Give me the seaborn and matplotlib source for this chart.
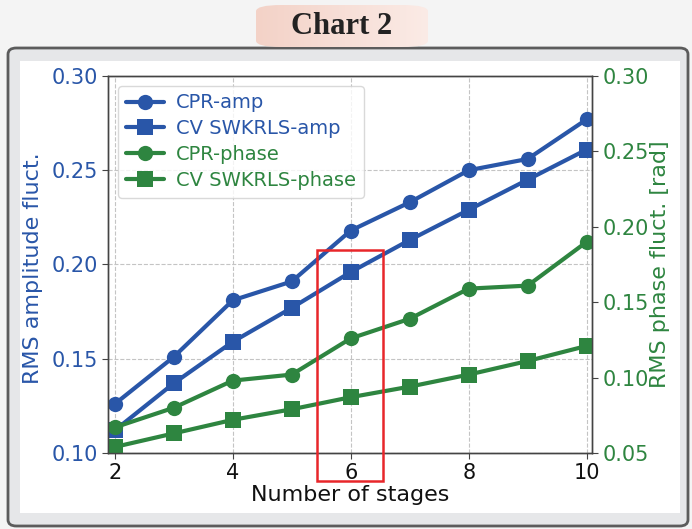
import matplotlib
matplotlib.use("Agg")
import matplotlib.pyplot as plt
from matplotlib.patches import FancyBboxPatch, Rectangle
from matplotlib.colors import LinearSegmentedColormap
import numpy as np
import pandas as pd
import seaborn as sns

# ---- data ----
stages = [2, 3, 4, 5, 6, 7, 8, 9, 10]
cpr_amp = [0.126, 0.151, 0.181, 0.191, 0.218, 0.233, 0.250, 0.256, 0.277]
cv_amp = [0.112, 0.137, 0.159, 0.177, 0.196, 0.213, 0.229, 0.245, 0.261]
cpr_phase = [0.067, 0.080, 0.098, 0.102, 0.126, 0.139, 0.159, 0.161, 0.190]
cv_phase = [0.054, 0.063, 0.072, 0.079, 0.087, 0.094, 0.102, 0.111, 0.121]
left_ticks = [0.10, 0.15, 0.20, 0.25, 0.30]
right_ticks = [0.05, 0.10, 0.15, 0.20, 0.25, 0.30]
x_ticks = [2, 4, 6, 8, 10]
title = "Chart 2"

BLUE = "#2956a8"
GREEN = "#2e8540"

sns.set_style("white")
plt.rcParams["font.family"] = ["DejaVu Sans"]

W, H = 692, 529
fig = plt.figure(figsize=(W / 100, H / 100), dpi=100)
fig.patch.set_facecolor("#f4f4f4")

def px(x0, y0, x1, y1):
    return x0 / W, 1 - y1 / H, (x1 - x0) / W, (y1 - y0) / H

# panel
x, y, w, h = px(8, 48, 688, 526)
fig.patches.append(FancyBboxPatch((x, y), w, h, boxstyle="round,pad=0,rounding_size=0.012",
                                  transform=fig.transFigure, facecolor="#e6e7e9",
                                  edgecolor="#5c5c5c", linewidth=2, zorder=0))
x, y, w, h = px(20, 61, 680, 513)
fig.patches.append(Rectangle((x, y), w, h, transform=fig.transFigure,
                             facecolor="white", edgecolor="none", zorder=0.5))
# title box with gradient
tx, ty, tw, th = px(256, 5, 428, 47)
grad = np.linspace(0, 1, 256).reshape(1, -1)
cmap = LinearSegmentedColormap.from_list("pk", ["#f3d2c7", "#fbebe6"])
tax = fig.add_axes([tx, ty, tw, th])
tax.set_zorder(1)
tax.imshow(grad, aspect="auto", cmap=cmap, extent=[0, 1, 0, 1])
tax.set_axis_off()
clip = FancyBboxPatch((0, 0), 1, 1, boxstyle="round,pad=0,rounding_size=0.15",
                      transform=tax.transAxes, facecolor="none", edgecolor="none")
tax.add_patch(clip)
tax.images[0].set_clip_path(clip)
tax.text(0.5, 0.5, title, ha="center", va="center", fontsize=22, fontweight="bold",
         family=["Liberation Serif", "DejaVu Serif"], color="#222222", transform=tax.transAxes)

# main axes
ax = fig.add_axes([108 / W, 1 - 453 / H, (592 - 108) / W, (453 - 76) / H])
ax.set_facecolor("white")
ax2 = ax.twinx()
ax.set_zorder(2)
ax2.set_zorder(3)
ax2.patch.set_visible(False)

sns.lineplot(x=stages, y=cpr_amp, ax=ax, color=BLUE, marker="o", markersize=11,
             linewidth=3, markeredgewidth=0, label="CPR-amp", legend=False)
sns.lineplot(x=stages, y=cv_amp, ax=ax, color=BLUE, marker="s", markersize=11,
             linewidth=3, markeredgewidth=0, label="CV SWKRLS-amp", legend=False)
sns.lineplot(x=stages, y=cpr_phase, ax=ax2, color=GREEN, marker="o", markersize=11,
             linewidth=3, markeredgewidth=0, label="CPR-phase", legend=False)
sns.lineplot(x=stages, y=cv_phase, ax=ax2, color=GREEN, marker="s", markersize=11,
             linewidth=3, markeredgewidth=0, label="CV SWKRLS-phase", legend=False)

ax.set_xlim(1.885, 10.09)
ax.set_ylim(0.10, 0.30)
ax2.set_ylim(0.05, 0.30)
ax.set_xticks(x_ticks)
ax.set_yticks(left_ticks)
ax2.set_yticks(right_ticks)
ax.set_yticklabels([f"{v:.2f}" for v in left_ticks])
ax2.set_yticklabels([f"{v:.2f}" for v in right_ticks])

ax.grid(True, linestyle="--", color="#c4c4c4", linewidth=0.8)
ax2.grid(False)
for a in (ax, ax2):
    for s in a.spines.values():
        s.set_color("#444444")
        s.set_linewidth(1.0)

ax.tick_params(axis="y", labelsize=15, length=4, width=0.8, left=True,
               color="#444444", labelcolor=BLUE)
ax.tick_params(axis="x", labelsize=15, length=4, width=0.8, bottom=True,
               color="#444444", labelcolor="#111111")
ax2.tick_params(axis="y", labelsize=15, length=4, width=0.8, right=True,
                color="#444444", labelcolor=GREEN)

ax.set_xlabel("Number of stages", fontsize=16, color="#111111", labelpad=1)
ax.set_ylabel("RMS amplitude fluct.", fontsize=16, color=BLUE)
ax2.set_ylabel("RMS phase fluct. [rad]", fontsize=16, color=GREEN)
ax.yaxis.set_label_coords(-0.134, 0.49)
ax2.yaxis.set_label_coords(1.12, 0.5)

h1, l1 = ax.get_legend_handles_labels()
h2, l2 = ax2.get_legend_handles_labels()
leg = ax2.legend(h1 + h2, l1 + l2, loc="upper left", fontsize=14, frameon=True,
                 handlelength=2.0, handletextpad=0.6, labelspacing=0.35,
                 borderaxespad=0.5, fancybox=True)
leg.get_frame().set_edgecolor("#d0d0d0")
for t, c in zip(leg.get_texts(), [BLUE, BLUE, GREEN, GREEN]):
    t.set_color(c)

# red highlight box
rx, ry, rw, rh = px(317, 250, 383, 481)
fig.patches.append(Rectangle((rx, ry), rw, rh, transform=fig.transFigure, facecolor="none",
                             edgecolor="#e8262a", linewidth=1.8, zorder=10))

fig.savefig("out.png", dpi=100)
